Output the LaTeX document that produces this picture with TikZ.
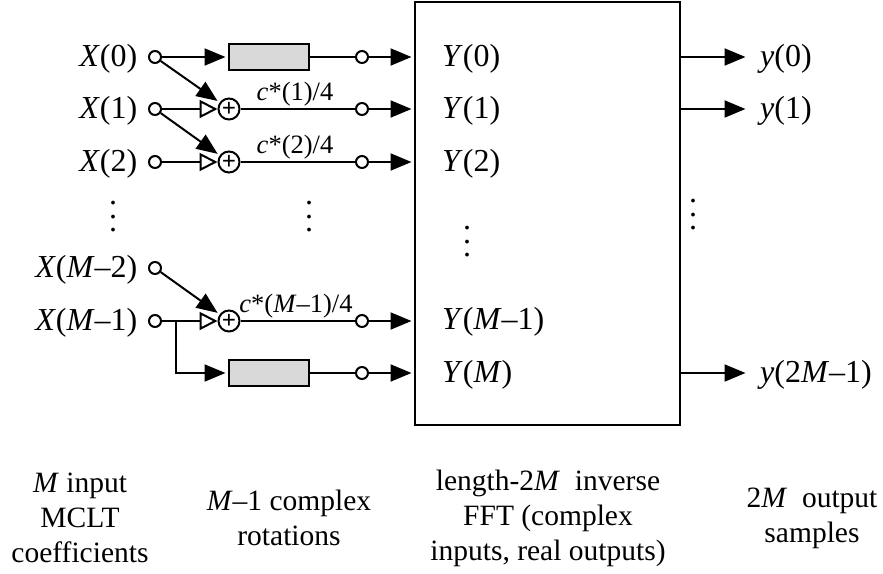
\documentclass[tikz,border=0pt]{standalone}
\usepackage{fontspec}
\setmainfont{Liberation Serif}
\usetikzlibrary{arrows.meta}
\tikzset{
  every picture/.style={x=1pt,y=-1pt},
  tap/.style={draw,circle,fill=white,line width=2pt,minimum size=12pt,inner sep=0pt},
  sumnode/.style={draw,circle,line width=2pt,minimum size=21pt,inner sep=0pt,font=\fontsize{25}{25}\selectfont\bfseries},
  delaybox/.style={draw,fill=black!15,line width=2pt,minimum width=80pt,minimum height=26pt,inner sep=0pt},
  wire/.style={line width=2pt},
  solidarrow/.style={wire,shorten >=2.5pt,-{Triangle[length=21pt,width=17pt]}},
  openarrow/.style={wire,-{Triangle[open,length=18pt,width=18pt,line width=2pt]}},
  biglabel/.style={font=\fontsize{32}{32}\selectfont,inner sep=0pt},
  gainlabel/.style={font=\fontsize{26.5}{26.5}\selectfont,inner sep=0pt},
  caption/.style={font=\fontsize{29.5}{35}\selectfont,align=center,inner sep=0pt},
  dotstack/.style={font=\fontsize{32}{13.5}\selectfont,align=center,inner sep=0pt}
}
\begin{document}
\begin{tikzpicture}
\useasboundingbox (0,0) rectangle (883,573);

% FFT block
\node[draw,line width=2pt,minimum width=265pt,minimum height=423pt,inner sep=0pt] (fft) at (547.5,213.5) {};

% inputs
\node[tap] (in0) at (155,57) {};
\node[tap] (in1) at (155,109) {};
\node[tap] (in2) at (155,162) {};
\node[tap] (in3) at (155,268) {};
\node[tap] (in4) at (155,321) {};
\node[biglabel,anchor=east] (xl0) at (137.5,58.5) {\textit{X}(0)};
\node[biglabel,anchor=east] (xl1) at (137.5,110.5) {\textit{X}(1)};
\node[biglabel,anchor=east] (xl2) at (137.5,163.5) {\textit{X}(2)};
\node[biglabel,anchor=east] (xl3) at (137.5,269.5) {\textit{X}(\textit{M}–2)};
\node[biglabel,anchor=east] (xl4) at (137.5,322.5) {\textit{X}(\textit{M}–1)};
\node[dotstack] (xdots) at (113,217) {.\\.\\.};

% middle column
\node[delaybox] (d0) at (269,57) {};
\node[delaybox] (d1) at (269,373) {};
\node[sumnode] (s1) at (229,109) {+};
\node[sumnode] (s2) at (229,162) {+};
\node[sumnode] (s3) at (229,321) {+};
\node[tap] (o0) at (362,57) {};
\node[tap] (o1) at (362,109) {};
\node[tap] (o2) at (362,162) {};
\node[tap] (o3) at (362,321) {};
\node[tap] (o4) at (362,373) {};
\coordinate (t0) at (414,57);
\coordinate (t1) at (414,109);
\coordinate (t2) at (414,162);
\coordinate (t3) at (414,321);
\coordinate (t4) at (414,373);
\coordinate (bend) at (176,321);
\coordinate (bendlow) at (176,373);

\draw[solidarrow] (in0) -- (d0);
\draw[solidarrow] (in0) -- (s1);
\draw[openarrow] (in1) -- (s1);
\draw[solidarrow] (in1) -- (s2);
\draw[openarrow] (in2) -- (s2);
\draw[solidarrow] (in3) -- (s3);
\draw[openarrow] (in4) -- (s3);
\draw[solidarrow] (bend) -- (bendlow) -- (d1);

\draw[wire] (d0) -- (o0);
\draw[wire] (s1) -- (o1);
\draw[wire] (s2) -- (o2);
\draw[wire] (s3) -- (o3);
\draw[wire] (d1) -- (o4);
\draw[solidarrow] (o0) -- (t0);
\draw[solidarrow] (o1) -- (t1);
\draw[solidarrow] (o2) -- (t2);
\draw[solidarrow] (o3) -- (t3);
\draw[solidarrow] (o4) -- (t4);

\node[gainlabel] (g1) at (295,94) {\textit{c}*(1)/4};
\node[gainlabel] (g2) at (295,147) {\textit{c}*(2)/4};
\node[gainlabel] (g3) at (296,306) {\textit{c}*(\textit{M}–1)/4};
\node[dotstack] (mdots) at (309,217) {.\\.\\.};

% FFT inputs
\node[biglabel,anchor=west] (yl0) at (442,58.5) {\textit{Y}(0)};
\node[biglabel,anchor=west] (yl1) at (442,110.5) {\textit{Y}(1)};
\node[biglabel,anchor=west] (yl2) at (442,163.5) {\textit{Y}(2)};
\node[biglabel,anchor=west] (yl3) at (442,321.5) {\textit{Y}(\textit{M}–1)};
\node[biglabel,anchor=west] (yl4) at (442,374.5) {\textit{Y}(\textit{M})};
\node[dotstack] (ydots) at (467,242) {.\\.\\.};

% outputs
\coordinate (f0) at (680,57);
\coordinate (f1) at (680,109);
\coordinate (f2) at (680,373);
\coordinate (e0) at (748,57);
\coordinate (e1) at (748,109);
\coordinate (e2) at (748,373);
\draw[solidarrow] (f0) -- (e0);
\draw[solidarrow] (f1) -- (e1);
\draw[solidarrow] (f2) -- (e2);
\node[biglabel,anchor=west] (ol0) at (760,58.5) {\textit{y}(0)};
\node[biglabel,anchor=west] (ol1) at (760,110.5) {\textit{y}(1)};
\node[biglabel,anchor=west] (ol2) at (760,374.5) {\textit{y}(2\textit{M}–1)};
\node[dotstack] (odots) at (693,215) {.\\.\\.};

% captions
\node[caption] (c0) at (80,518) {\textit{M} input\\MCLT\\coefficients};
\node[caption] (c1) at (289,518) {\textit{M}–1 complex\\rotations};
\node[caption] (c2) at (548,518) {length-2\textit{M}\ \ inverse\\FFT (complex\\inputs, real outputs)};
\node[caption] (c3) at (812,518) {2\textit{M}\ \ output\\samples};
\end{tikzpicture}
\end{document}
